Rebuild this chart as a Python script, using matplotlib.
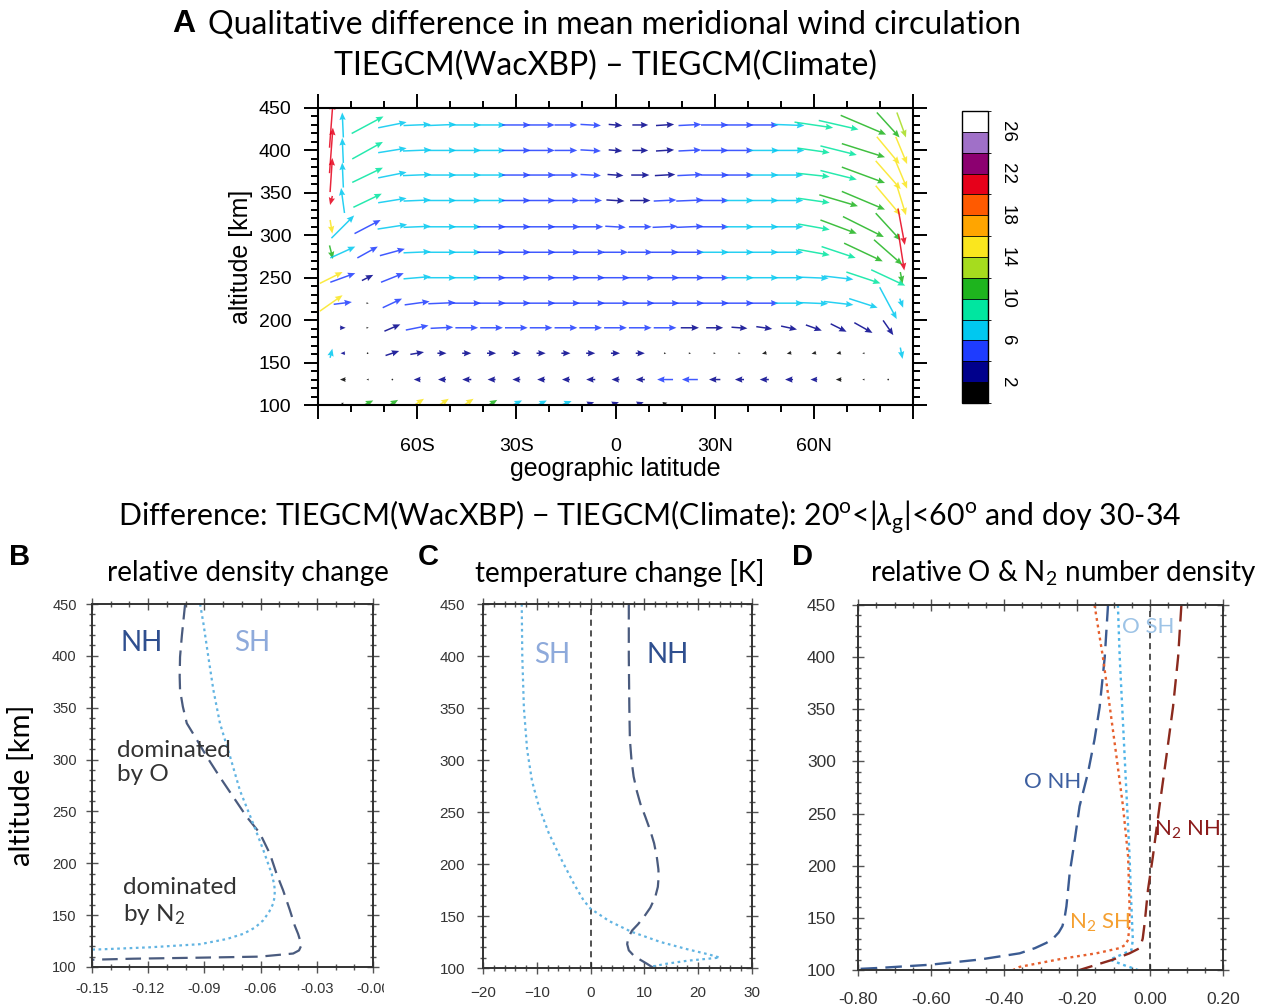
import numpy as np
import matplotlib
matplotlib.use("Agg")
import matplotlib.pyplot as plt
from matplotlib.colors import ListedColormap, BoundaryNorm
from matplotlib.cm import ScalarMappable
from matplotlib.ticker import MultipleLocator
from matplotlib.transforms import Bbox

plt.rcParams['font.family'] = ['Liberation Sans', 'DejaVu Sans']
plt.rcParams['mathtext.fontset'] = 'custom'
plt.rcParams['mathtext.rm'] = 'Lato'
plt.rcParams['mathtext.it'] = 'Lato:italic'
plt.rcParams['mathtext.bf'] = 'Lato:bold'

# ---------------- panel A: qualitative wind difference (lat / altitude) ----------------
LAT = [-86.0, -82.5, -75.0, -67.5, -60.0, -52.5, -45.0, -37.5, -30.0, -22.5, -15.0, -7.5,
       0.0, 7.5, 15.0, 22.5, 30.0, 37.5, 45.0, 52.5, 60.0, 67.5, 75.0, 82.5, 86.5]
ALT = [430, 400, 371, 341, 310, 280, 250, 220, 191, 161, 130, 102]

# meridional component (positive = northward)
U_WIND = [
    [3, -1, 28, 25, 24, 25, 25, 25, 25, 24, 20, 18, 12, 14, 16, 20, 24, 25, 25, 27, 34, 35, 40, 20, 8],
    [3, -1, 27, 25, 25, 25, 25, 25, 25, 24, 20, 18, 12, 14, 16, 20, 24, 25, 26, 27, 28, 32, 38, 20, 10],
    [2, -1, 27, 25, 25, 25, 25, 25, 25, 25, 22, 18, 14, 16, 18, 22, 25, 25, 25, 25, 28, 32, 38, 22, 10],
    [-2, -3, 25, 25, 24, 25, 25, 25, 25, 25, 24, 20, 16, 18, 20, 24, 25, 25, 25, 25, 28, 34, 38, 22, 8],
    [2, 20, 23, 26, 24, 25, 25, 25, 25, 25, 25, 22, 18, 20, 22, 24, 25, 25, 25, 25, 28, 32, 36, 22, 6],
    [3, 22, 18, 22, 24, 25, 25, 25, 25, 25, 25, 25, 22, 22, 24, 25, 25, 25, 25, 25, 28, 30, 34, 25, 5],
    [20, 22, 10, 20, 24, 25, 25, 25, 25, 25, 25, 25, 25, 25, 25, 25, 25, 25, 25, 25, 26, 26, 30, 30, 2],
    [20, 16, 2, 17, 22, 24, 25, 25, 25, 25, 25, 25, 25, 25, 25, 25, 25, 25, 25, 25, 25, 26, 25, 15, 3],
    [0, 5, 2, 14, 20, 20, 20, 20, 20, 20, 20, 20, 20, 20, 20, 16, 15, 14, 14, 14, 14, 14, 16, 9, 0],
    [2, -4, 1, 12, 12, 8, 8, 8, 8, 8, 8, 8, 8, 8, 2, 2, 2, 2, -4, -4, -4, -4, -2, 0, 2],
    [0, -5, -2, 1, -6, -7, -8, -7, -7, -7, -7, -8, -7, -8, -14, -14, -10, -8, -8, -7, -6, -5, -2, 1, 0],
    [0, 2, 10, 10, 12, 12, 12, 10, 10, 10, 10, 6, 6, 6, 4, 0, 0, 0, 0, 0, 0, 0, 0, 0, 0],
]
# vertical component (positive = upward)
W_WIND = [
    [40, 22, 15, 5, 1, 1, 0, 0, 0, 0, 0, -1, -1, 0, 1, 1, 0, 0, 0, -1, -5, -8, -17, -22, -22],
    [40, 22, 15, 4, 1, 0, 0, 0, 0, 0, 0, -1, -1, 0, 1, 1, 0, 0, 0, 0, -4, -8, -12, -24, -24],
    [30, 22, 13, 5, 1, 0, 0, 0, 0, 0, 0, -1, -1, 0, 1, 1, 0, 0, 0, 0, -3, -8, -14, -25, -24],
    [-8, 22, 12, 4, 1, 0, 0, 0, 0, 0, 0, 0, -1, 0, 1, 1, 0, 0, 0, 0, -4, -10, -16, -26, -26],
    [-12, 20, 12, 4, 1, 0, 0, 0, 0, 0, 0, 0, -1, 0, 1, 1, 0, 0, 0, 0, -5, -12, -18, -24, -32],
    [-12, 10, 10, 6, 1, 0, 0, 0, 0, 0, 0, 0, 0, 0, 0, 0, 0, 0, 0, 0, -5, -10, -16, -22, -32],
    [10, 8, 5, 8, 2, 0, 0, 0, 0, 0, 0, 0, 0, 0, 0, 0, 0, 0, 0, 0, -1, -3, -10, -14, -10],
    [14, 2, 0, 8, 3, 1, 0, 0, 0, 0, 0, 0, 0, 0, 0, 0, 0, 0, 0, 0, -1, -3, -8, -28, -8],
    [0, 0, 0, 6, 4, 1, 0, 0, 0, 0, 0, 0, 0, 0, 0, 0, 0, -1, -2, -3, -5, -7, -9, -13, 0],
    [8, 0, 0, 4, 2, 0, 0, 0, 0, 0, 0, 0, 0, 0, 0, 0, 0, 0, -1, -1, -1, -1, 0, 0, -10],
    [0, 0, 0, 0, 0, 0, 0, 0, 0, 0, 0, 0, 0, 0, 0, 0, 0, 0, 0, 0, 0, 0, 0, 0, 0],
    [0, 1, 5, 6, 8, 8, 8, 6, 5, 5, 4, 2, 2, 2, 1, 0, 0, 0, 0, 0, 0, 0, 0, 0, 0],
]
# colour value of each vector
SPEED = [
    [20, 7, 9, 7, 7, 7, 7, 6.5, 5, 5, 4.5, 4, 3, 3, 3.5, 4.5, 5, 5, 5.5, 7, 9, 9, 11, 11, 12],
    [20, 7, 9, 7, 7, 7, 7, 6.5, 5, 5, 4.5, 4, 3, 3, 3.5, 4.5, 5, 5, 6.5, 7, 9, 9, 11, 14, 15],
    [21, 7, 8.5, 7, 7, 7, 7, 6.5, 5, 5, 4.5, 4, 3, 3, 3.5, 4.5, 5, 5.5, 6.5, 7, 8.5, 9.5, 11, 14, 15],
    [20, 7, 8.5, 7, 7, 7, 7, 6.5, 5, 5, 5, 4.5, 3.5, 3.5, 4, 5, 5.5, 6.5, 7, 7, 9, 10, 11, 15, 15],
    [15, 7, 4.5, 7, 7, 7, 7, 5.5, 5, 5, 5, 4.5, 4, 4, 4.5, 5, 5.5, 6.5, 7, 7, 9, 10, 11, 11, 20],
    [11, 7, 4, 4.5, 7, 7, 7, 5.5, 5, 5, 5, 5, 4.5, 4.5, 5, 5, 6.5, 7, 7, 7, 9, 9, 11, 11, 20],
    [15, 5, 3, 4.5, 6.5, 7, 6.5, 5, 5, 5, 5, 5, 5, 5, 5, 5, 5.5, 7, 7, 7, 7, 7.5, 9, 8.5, 11],
    [15, 4.5, 1.5, 4, 5, 5, 5, 5, 5, 5, 5, 5, 5, 5, 5, 5, 5, 5, 5.5, 6.5, 7, 7, 7.5, 7, 7],
    [0, 2, 1, 3.5, 4.5, 4.5, 4.5, 4.5, 4.5, 4.5, 4.5, 4.5, 4.5, 4.5, 4.5, 3.5, 3, 3, 3, 3, 3, 3, 3.5, 3, 0],
    [7, 2, 1, 3, 3, 2, 2, 2, 2, 2, 2, 2, 2, 2, 1, 1, 1, 1, 1.5, 1.5, 1.5, 1.5, 1, 0, 7],
    [0, 1.5, 1, 1, 2, 2, 2, 2, 2, 2, 2, 2, 2, 2.5, 4.5, 4.5, 2.5, 2, 2, 2, 2, 1.5, 1, 1, 0],
    [0, 1, 11, 11, 15, 15, 14.5, 11, 7, 7, 7, 2, 2, 2, 1.5, 0, 0, 0, 0, 0, 0, 0, 0, 0, 0],
]
SPEED_LEVELS = [2, 4, 6, 8, 10, 12, 14, 16, 18, 20, 22, 24, 26]
SPEED_TICKS = [2, 6, 10, 14, 18, 22, 26]
LAT_TICKS = [-90, -60, -30, 0, 30, 60, 90]
LAT_LABELS = ['', '60S', '30S', '0', '30N', '60N', '']

# ---------------- panel B: relative density change ----------------
B_NH_ALT = [450, 420, 399, 380, 367, 351, 335, 319, 303, 283, 264, 245, 229, 209, 190, 174, 155,
            140, 132, 125, 121, 116, 113, 110, 109, 108, 107, 104]
B_NH = [-0.1003, -0.1020, -0.1030, -0.1032, -0.1030, -0.1015, -0.0994, -0.0940, -0.0888, -0.0817,
        -0.0746, -0.0675, -0.0604, -0.0550, -0.0515, -0.0480, -0.0444, -0.0418, -0.0400, -0.0388,
        -0.0382, -0.0395, -0.0426, -0.0604, -0.0923, -0.128, -0.15, -0.17]
B_SH_ALT = [450, 431, 399, 367, 335, 303, 270, 238, 213, 190, 180, 174, 167, 161, 153, 145, 138,
            132, 127, 122, 119, 117, 116]
B_SH = [-0.0923, -0.0905, -0.0879, -0.0852, -0.0817, -0.0763, -0.0710, -0.0639, -0.0586, -0.0541,
        -0.0528, -0.0524, -0.0526, -0.0533, -0.0555, -0.0586, -0.0630, -0.0692, -0.0780, -0.0923,
        -0.1190, -0.1456, -0.17]
B_XTICKS = [-0.15, -0.12, -0.09, -0.06, -0.03, 0.0]
B_XLABELS = ['-0.15', '-0.12', '-0.09', '-0.06', '-0.03', '-0.00']

# ---------------- panel C: temperature change ----------------
C_SH_ALT = [450, 400, 350, 310, 280, 255, 230, 205, 180, 165, 157, 145, 135, 125, 118, 113, 110,
            107, 104, 101]
C_SH = [-12.8, -12.7, -12.4, -11.8, -10.9, -9.6, -7.8, -5.5, -3.0, -1.3, 0.0, 3.5, 7.5, 13.0, 18.0,
        22.0, 24.0, 18.0, 14.0, 11.0]
C_NH_ALT = [450, 400, 350, 320, 300, 284, 270, 258, 245, 232, 220, 207, 195, 188, 178, 168, 158,
            149, 142, 136, 129, 123, 117, 112, 108, 104, 100]
C_NH = [7.1, 7.1, 7.2, 7.3, 7.6, 8.0, 8.6, 9.25, 10.2, 11.1, 11.8, 12.3, 12.6, 12.65, 12.5, 12.0,
        11.1, 9.9, 8.8, 7.7, 7.0, 6.8, 7.1, 8.0, 9.2, 10.5, 11.7]

# ---------------- panel D: relative O and N2 number density ----------------
D_ONH_ALT = [450, 400, 352, 321, 289, 257, 225, 193, 175, 161, 150, 142, 136, 130, 126, 121, 116,
             110, 105, 102, 101]
D_ONH = [-0.115, -0.124, -0.138, -0.152, -0.170, -0.193, -0.206, -0.220, -0.225, -0.229, -0.234,
         -0.240, -0.250, -0.266, -0.284, -0.315, -0.357, -0.467, -0.604, -0.741, -0.80]
D_OSH_ALT = [450, 400, 337, 273, 209, 161, 129, 119, 114, 110, 105, 100]
D_OSH = [-0.088, -0.083, -0.074, -0.065, -0.056, -0.051, -0.047, -0.051, -0.083, -0.110, -0.074,
         -0.033]
D_N2SH_ALT = [450, 400, 352, 305, 257, 209, 161, 140, 129, 124, 121, 116, 111, 103, 100]
D_N2SH = [-0.152, -0.129, -0.110, -0.092, -0.074, -0.060, -0.056, -0.057, -0.060, -0.068, -0.083,
          -0.147, -0.238, -0.357, -0.375]
D_N2NH_ALT = [450, 400, 352, 305, 257, 209, 177, 145, 130, 121, 116, 110, 105, 100]
D_N2NH = [0.086, 0.077, 0.063, 0.045, 0.026, 0.008, -0.0055, -0.0146, -0.020, -0.028, -0.056,
          -0.101, -0.147, -0.193]
D_XTICKS = [-0.8, -0.6, -0.4, -0.2, 0.0, 0.2]
D_XLABELS = ['-0.80', '-0.60', '-0.40', '-0.20', '0.00', '0.20']

# ---------------- styling ----------------
SPEED_COLORS = ['#000000', '#00008c', '#1e3cff', '#00c8f0', '#00e6a0', '#1eb41e', '#a6dc1e',
                '#fae61e', '#ffa500', '#ff5a00', '#e6001a', '#8c0070', '#a070c8', '#ffffff']
NH_COL = '#4a5b7e'
SH_COL = '#62b4e2'
NH_TXT = '#2f4f8f'
SH_TXT = '#8eaadb'
DASH = (0, (7, 3.5))
DOT = (0, (1.2, 1.6))

W_PX, H_PX = 1272, 1007


def box(x0, y0, x1, y1):
    # pixel box (top-left origin) -> figure fraction rect
    return [x0 / W_PX, 1 - y1 / H_PX, (x1 - x0) / W_PX, (y1 - y0) / H_PX]


def ftext(x, y, s, **kw):
    fig.text(x / W_PX, 1 - y / H_PX, s, **kw)


def style_profile_axes(ax, tick_size, pad):
    for sp in ax.spines.values():
        sp.set_linewidth(1.4)
        sp.set_color('#333333')
    ax.yaxis.set_major_locator(MultipleLocator(50))
    ax.yaxis.set_minor_locator(MultipleLocator(10))
    ax.tick_params(which='both', direction='inout', top=True, right=True, color='#555555',
                   labelcolor='#333333', labelsize=tick_size, pad=pad, width=1)
    ax.tick_params(which='major', length=8)
    ax.tick_params(which='minor', length=4)
    ax.set_ylim(100, 450)


fig = plt.figure(figsize=(W_PX / 100, H_PX / 100), dpi=100)

# ---- panel A ----
axA = fig.add_axes(box(318, 108, 913, 405))
cmap = ListedColormap(SPEED_COLORS)
bounds = [0] + SPEED_LEVELS + [28]
norm = BoundaryNorm(bounds, cmap.N)

lat2d, alt2d = np.meshgrid(LAT, ALT)
u = np.array(U_WIND, float)
w = np.array(W_WIND, float)
spd = np.array(SPEED, float)
keep = (u != 0) | (w != 0)
axA.quiver(lat2d[keep], alt2d[keep], u[keep], w[keep], spd[keep], cmap=cmap, norm=norm,
           angles='uv', scale_units='inches', scale=88, pivot='middle', units='dots',
           width=1.5, headwidth=4.2, headlength=5, headaxislength=4.5, minlength=1.2,
           minshaft=1, alpha=0.85, zorder=2)
axA.set_xlim(-90, 90)
axA.set_ylim(100, 450)
axA.set_xticks(LAT_TICKS)
axA.set_xticklabels(LAT_LABELS)
axA.xaxis.set_minor_locator(MultipleLocator(10))
axA.yaxis.set_major_locator(MultipleLocator(50))
axA.yaxis.set_minor_locator(MultipleLocator(10))
for sp in axA.spines.values():
    sp.set_linewidth(1.5)
axA.tick_params(which='both', direction='out', top=True, right=True, width=1.4, labelsize=14)
axA.tick_params(which='major', length=10, pad=9)
axA.tick_params(axis='x', which='major', pad=14)
axA.tick_params(which='minor', length=5)
axA.set_xlabel('geographic latitude', fontsize=18, labelpad=1)
axA.set_ylabel('altitude [km]', fontsize=18, labelpad=4)

cax = fig.add_axes(box(962, 111, 988, 403))
cb = fig.colorbar(ScalarMappable(norm=norm, cmap=cmap), cax=cax, drawedges=True,
                  ticks=SPEED_TICKS)
cb.outline.set_linewidth(1.0)
cb.dividers.set_linewidth(0.6)
cax.tick_params(length=0, labelsize=13.5, pad=8)
for lbl in cax.get_yticklabels():
    lbl.set_rotation(-90)
    lbl.set_va('center')

ftext(184, 24, 'A', fontsize=23, fontweight='bold', ha='center', va='center',
      family=['Liberation Sans', 'DejaVu Sans'])
ftext(208, 24, 'Qualitative difference in mean meridional wind circulation', fontsize=23,
      ha='left', va='center', family=['Liberation Sans Narrow', 'Lato', 'DejaVu Sans'])
ftext(605, 66, 'TIEGCM(WacXBP) \u2013 TIEGCM(Climate)', fontsize=23, ha='center', va='center',
      family=['Liberation Sans Narrow', 'Lato', 'DejaVu Sans'])

# ---- bottom header ----
ftext(650, 518, r'Difference: TIEGCM(WacXBP) $-$ TIEGCM(Climate): 20$^{\rm o}$<|$\lambda_{\rm g}$|<60$^{\rm o}$ and doy 30-34',
      fontsize=21.8, ha='center', va='center', family=['Lato', 'DejaVu Sans'])

LBL = dict(family=['Lato', 'DejaVu Sans'])

# ---- panel B ----
axB = fig.add_axes(box(92, 604, 373, 967))
axB.plot(B_NH, B_NH_ALT, color=NH_COL, lw=1.6, ls=DASH)
axB.plot(B_SH, B_SH_ALT, color=SH_COL, lw=1.6, ls=DOT)
axB.set_xlim(-0.15, 0.0)
axB.set_xticks(B_XTICKS)
axB.set_xticklabels(B_XLABELS)
axB.xaxis.set_minor_locator(MultipleLocator(0.01))
style_profile_axes(axB, 10.5, 7)
clip = Bbox.from_extents(0, 0, 384, H_PX)
for lbl in axB.get_xticklabels():
    lbl.set_clip_box(clip)
    lbl.set_clip_on(True)
axB.text(-0.1233, 412, 'NH', color=NH_TXT, fontsize=20, ha='center', va='center', **LBL)
axB.text(-0.0646, 412, 'SH', color=SH_TXT, fontsize=20, ha='center', va='center', **LBL)
axB.text(-0.1367, 297, 'dominated\nby O', color='#333333', fontsize=17.5, ha='left',
         va='center', linespacing=1.2, **LBL)
axB.text(-0.1335, 163, 'dominated\nby N$_2$', color='#333333', fontsize=17.5, ha='left',
         va='center', linespacing=1.2, **LBL)
ftext(20, 557, 'B', fontsize=21, fontweight='bold', ha='center', va='center')
ftext(248, 573, 'relative density change', fontsize=20, ha='center', va='center', **LBL)
ftext(22, 785, 'altitude [km]', fontsize=21, rotation=90, ha='center', va='center', **LBL)

# ---- panel C ----
axC = fig.add_axes(box(483, 604, 752, 968))
axC.axvline(0, color='#222222', lw=1.1, ls=(0, (4, 3)))
axC.plot(C_SH, C_SH_ALT, color=SH_COL, lw=1.6, ls=DOT)
axC.plot(C_NH, C_NH_ALT, color=NH_COL, lw=1.6, ls=DASH)
axC.set_xlim(-20, 30)
axC.xaxis.set_major_locator(MultipleLocator(10))
axC.xaxis.set_minor_locator(MultipleLocator(2))
style_profile_axes(axC, 11, 9)
axC.text(-7.2, 401, 'SH', color=SH_TXT, fontsize=20, ha='center', va='center', **LBL)
axC.text(14.4, 401, 'NH', color=NH_TXT, fontsize=20, ha='center', va='center', **LBL)
ftext(428, 557, 'C', fontsize=21, fontweight='bold', ha='center', va='center')
ftext(620, 573, 'temperature change [K]', fontsize=20, ha='center', va='center', **LBL)

# ---- panel D ----
axD = fig.add_axes(box(858, 605, 1223, 970))
axD.axvline(0, color='#222222', lw=1.1, ls=(0, (4, 3)))
axD.plot(D_ONH, D_ONH_ALT, color='#3b5b92', lw=1.7, ls=DASH)
axD.plot(D_OSH, D_OSH_ALT, color='#4fb4e8', lw=1.7, ls=DOT)
axD.plot(D_N2SH, D_N2SH_ALT, color='#e6602e', lw=1.7, ls=DOT)
axD.plot(D_N2NH, D_N2NH_ALT, color='#8b2a1e', lw=1.7, ls=DASH)
axD.set_xlim(-0.8, 0.2)
axD.set_xticks(D_XTICKS)
axD.set_xticklabels(D_XLABELS)
axD.xaxis.set_minor_locator(MultipleLocator(0.05))
style_profile_axes(axD, 12.5, 12)
axD.text(-0.266, 280, 'O NH', color='#3d5fa0', fontsize=16, ha='center', va='center', **LBL)
axD.text(-0.0055, 429, 'O SH', color='#9dc3e6', fontsize=16, ha='center', va='center', **LBL)
axD.text(0.101, 234, 'N$_2$ NH', color='#8b1a1a', fontsize=16, ha='center', va='center', **LBL)
axD.text(-0.137, 145, 'N$_2$ SH', color='#f5a030', fontsize=16, ha='center', va='center', **LBL)
ftext(803, 557, 'D', fontsize=21, fontweight='bold', ha='center', va='center')
ftext(1063, 573, 'relative O & N$_2$ number density', fontsize=20, ha='center', va='center', **LBL)

fig.savefig('out.png', dpi=100)
